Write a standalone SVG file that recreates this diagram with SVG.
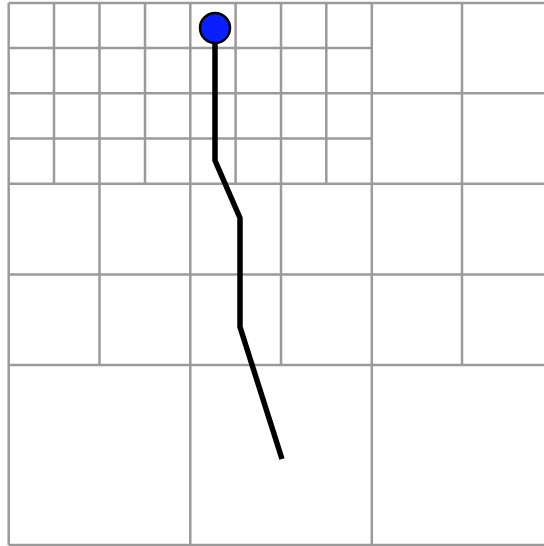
<svg xmlns="http://www.w3.org/2000/svg" width="544" height="546" viewBox="0 0 544 546">
<style>
.g{stroke:#9a9a9a;stroke-width:2.5;fill:none}
.p{stroke:#000;stroke-width:5.5;fill:none;stroke-linejoin:round}
</style>
<rect width="544" height="546" fill="#fff"/>
<g id="grid" class="g">
<line x1="8.7" y1="3" x2="8.7" y2="545"/>
<line x1="8.7" y1="3" x2="560" y2="3"/>
<line x1="8.7" y1="545" x2="560" y2="545"/>
<line x1="54" y1="3" x2="54" y2="184"/>
<line x1="99.5" y1="3" x2="99.5" y2="365"/>
<line x1="145" y1="3" x2="145" y2="184"/>
<line x1="190.3" y1="3" x2="190.3" y2="545"/>
<line x1="235.6" y1="3" x2="235.6" y2="184"/>
<line x1="281" y1="3" x2="281" y2="365"/>
<line x1="326.3" y1="3" x2="326.3" y2="184"/>
<line x1="371.8" y1="3" x2="371.8" y2="545"/>
<line x1="462" y1="3" x2="462" y2="365"/>
<line x1="8.7" y1="48" x2="371.8" y2="48"/>
<line x1="8.7" y1="93.2" x2="560" y2="93.2"/>
<line x1="8.7" y1="138.6" x2="371.8" y2="138.6"/>
<line x1="8.7" y1="183.8" x2="560" y2="183.8"/>
<line x1="8.7" y1="274.6" x2="560" y2="274.6"/>
<line x1="8.7" y1="365" x2="560" y2="365"/>
</g>
<g id="connectors">
<polyline class="p" points="215,28 215,160.5 240,218 240,327 282,459"/>
</g>
<g id="start">
<circle cx="215" cy="28" r="15" fill="#0a1fff" stroke="#000" stroke-width="2.5"/>
</g>
</svg>
